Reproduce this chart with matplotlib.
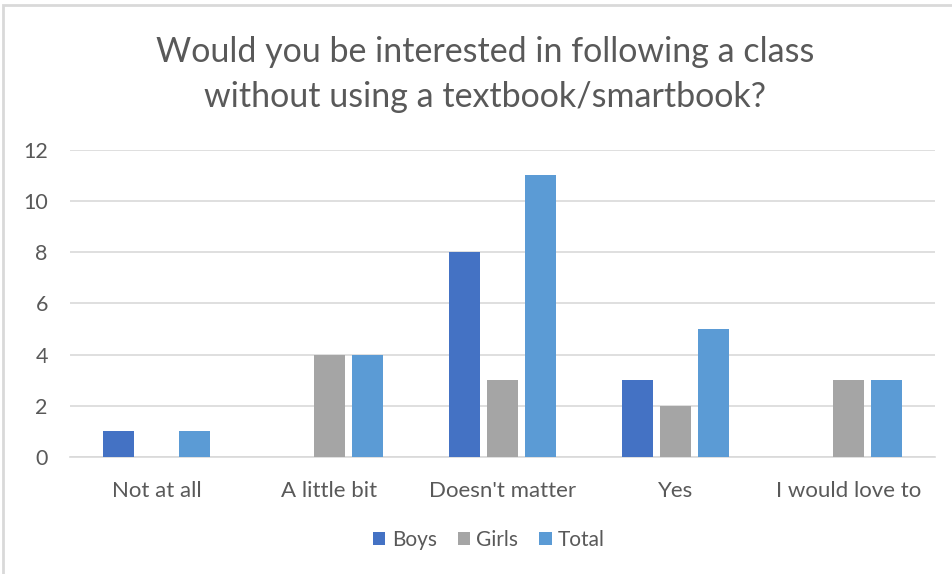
import numpy as np
import matplotlib.pyplot as plt
from matplotlib.patches import Rectangle

plt.rcParams['font.family'] = ['Lato', 'DejaVu Sans']

# Survey answers
categorias = ["Not at all", "A little bit", "Doesn't matter", "Yes", "I would love to"]
boys = [1, 0, 8, 3, 0]
girls = [0, 4, 3, 2, 3]
total = [1, 4, 11, 5, 3]
series = ["Boys", "Girls", "Total"]
colores = ["#4472C4", "#A5A5A5", "#5B9BD5"]

texto = "#595959"

fig = plt.figure(figsize=(9.53, 5.74), dpi=100)
ax = fig.add_axes([0.0735, 0.204, 0.9075, 0.535])

x = np.arange(len(categorias))
ancho = 0.175
paso = 0.22
for i, (nombre, valores, color) in enumerate(zip(series, [boys, girls, total], colores)):
    ax.bar(x + (i - 1) * paso, valores, ancho, color=color, label=nombre, zorder=3)

ax.set_xlim(-0.5, len(categorias) - 0.5)
ax.set_ylim(0, 12)
ax.set_yticks(np.arange(0, 13, 2))
ax.set_xticks(x)
ax.set_xticklabels(categorias)
ax.yaxis.grid(True, color="#D9D9D9", linewidth=1.2, zorder=0)
ax.tick_params(axis='both', length=0, labelcolor=texto)
ax.tick_params(axis='x', pad=17, labelsize=16)
ax.tick_params(axis='y', pad=16, labelsize=15.5)
for lado in ['top', 'right', 'left']:
    ax.spines[lado].set_visible(False)
ax.spines['bottom'].set_color("#D9D9D9")
ax.spines['bottom'].set_linewidth(1.2)

fig.text(0.509, 0.909, "Would you be interested in following a class",
         ha='center', va='center', fontsize=24.5, color=texto)
fig.text(0.509, 0.831, "without using a textbook/smartbook?",
         ha='center', va='center', fontsize=24.5, color=texto)

fig.legend(loc='center', bbox_to_anchor=(0.513, 0.059), ncol=3, frameon=False,
           fontsize=15, labelcolor=texto, handlelength=0.6, handleheight=0.6,
           handletextpad=0.3, columnspacing=1.0)

# marco de la imagen
fig.patches.append(Rectangle((0.003, -0.05), 1.2, 1.041, transform=fig.transFigure,
                             fill=False, edgecolor="#D9D9D9", linewidth=2))

fig.savefig("out.png", dpi=100)
